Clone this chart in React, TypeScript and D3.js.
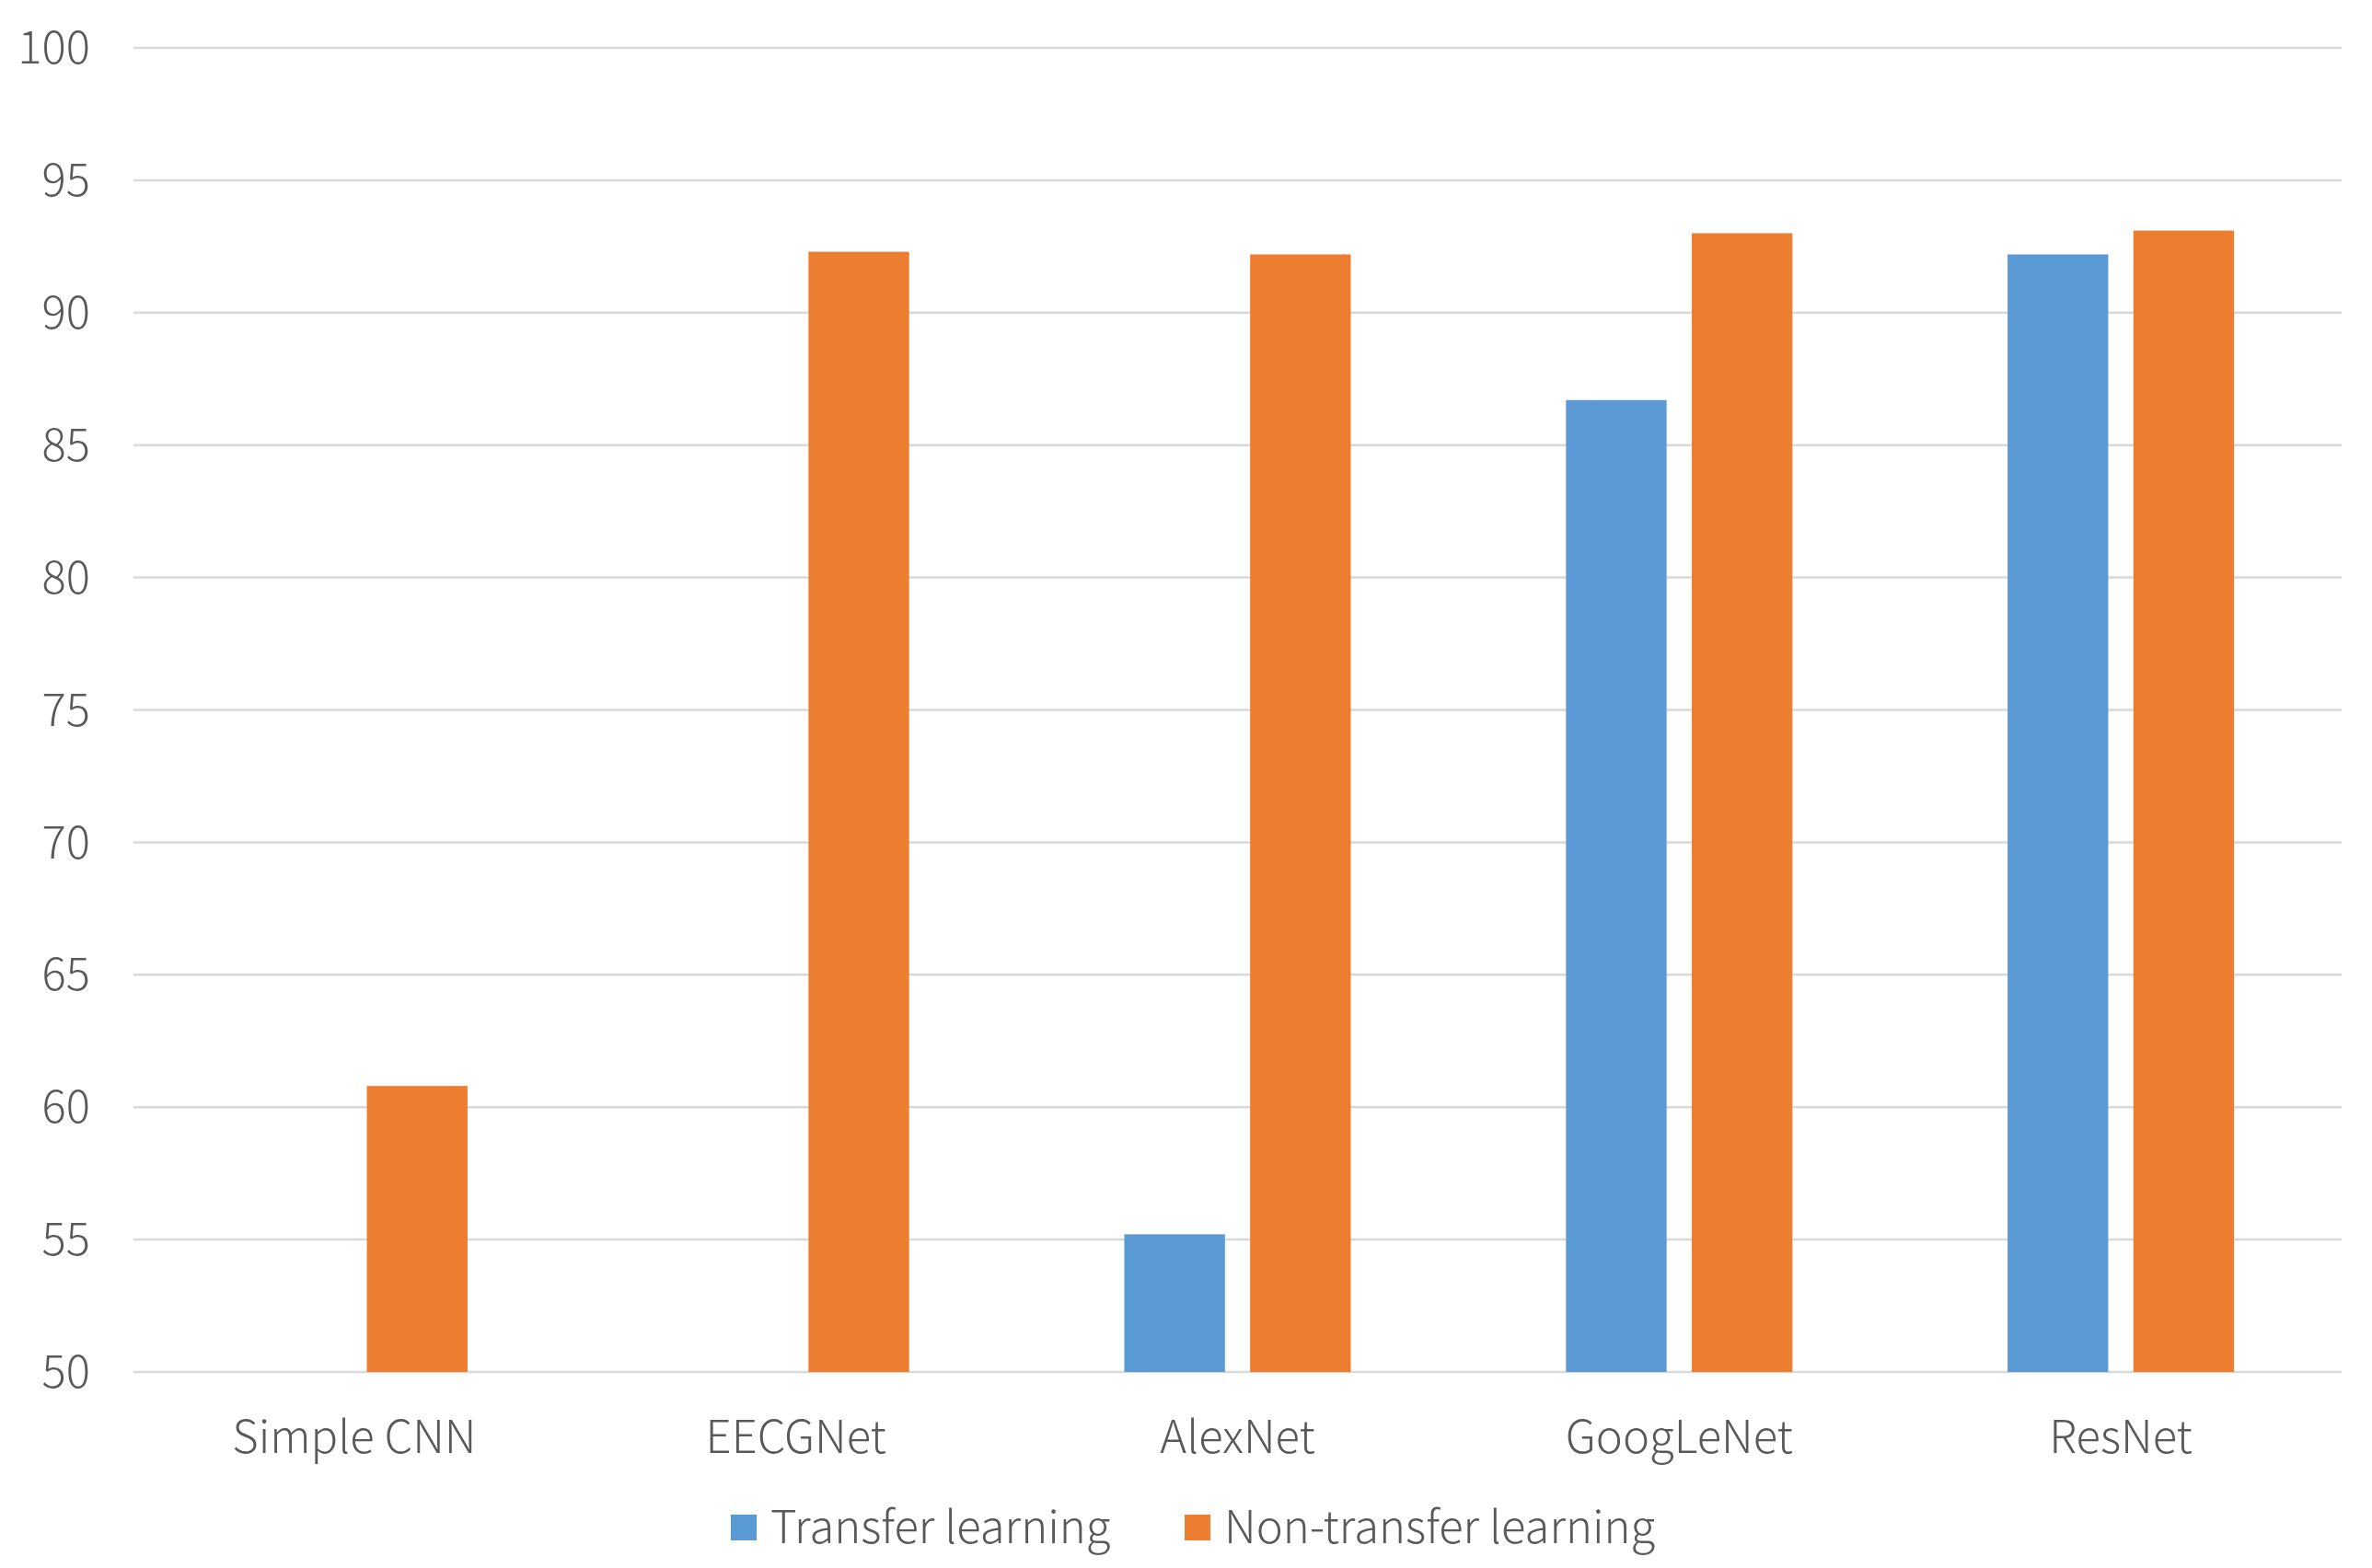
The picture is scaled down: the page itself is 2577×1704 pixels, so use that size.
import React, { useEffect, useRef } from 'react';
import * as d3 from 'd3';

// chart data
const categories = ['Simple CNN', 'EECGNet', 'AlexNet', 'GoogLeNet', 'ResNet'];
const seriesNames = ['Transfer learning', 'Non-transfer learning'];
const transferValues: (number | null)[] = [null, null, 55.2, 86.7, 92.2];
const nonTransferValues: number[] = [60.8, 92.3, 92.2, 93.0, 93.1];
const yTicks = [50, 55, 60, 65, 70, 75, 80, 85, 90, 95, 100];
const colors = ['#5B9BD5', '#ED7D31'];

const W = 2577;
const H = 1704;
const FONT = '"Noto Sans CJK KR", "Noto Sans", sans-serif';
const FONT_SIZE = '49px';

const App = () => {
  const ref = useRef<SVGSVGElement>(null);

  useEffect(() => {
    document.body.style.margin = '0';
    const svg = d3.select(ref.current);
    svg.selectAll('*').remove();

    const margin = { left: 145, right: 33, top: 52, bottom: 213 };
    const plotW = W - margin.left - margin.right;
    const plotH = H - margin.top - margin.bottom;

    const x0 = d3.scaleBand().domain(categories).range([0, plotW]).padding(0);
    const groupW = 246;
    const x1 = d3.scaleBand().domain(seriesNames).range([-groupW / 2, groupW / 2]).paddingInner(0.2).paddingOuter(0);
    const y = d3.scaleLinear().domain([50, 100]).range([plotH, 0]);

    const g = svg.append('g').attr('transform', `translate(${margin.left},${margin.top})`);

    // gridlines
    g.append('g')
      .selectAll('line')
      .data(yTicks)
      .enter()
      .append('line')
      .attr('x1', 0)
      .attr('x2', plotW)
      .attr('y1', d => y(d))
      .attr('y2', d => y(d))
      .attr('stroke', '#D9D9D9')
      .attr('stroke-width', 2.5);

    // y tick labels
    g.append('g')
      .selectAll('text')
      .data(yTicks)
      .enter()
      .append('text')
      .attr('x', -47)
      .attr('y', d => y(d))
      .attr('dy', '0.35em')
      .attr('text-anchor', 'end')
      .attr('fill', '#595959')
      .style('font-family', FONT)
      .style('font-weight', 300)
      .style('font-size', FONT_SIZE)
      .text(d => d);

    // bars
    const allSeries = [transferValues, nonTransferValues];
    allSeries.forEach((vals, si) => {
      g.append('g')
        .selectAll('rect')
        .data(vals.map((v, i) => ({ v, c: categories[i] })).filter(d => d.v != null))
        .enter()
        .append('rect')
        .attr('x', d => (x0(d.c) as number) + x0.bandwidth() / 2 + (x1(seriesNames[si]) as number))
        .attr('width', x1.bandwidth())
        .attr('y', d => y(d.v as number))
        .attr('height', d => plotH - y(d.v as number))
        .attr('fill', colors[si]);
    });

    // category labels
    g.append('g')
      .selectAll('text')
      .data(categories)
      .enter()
      .append('text')
      .attr('x', d => (x0(d) as number) + x0.bandwidth() / 2)
      .attr('y', plotH + 88)
      .attr('text-anchor', 'middle')
      .attr('fill', '#595959')
      .style('font-family', FONT)
      .style('font-weight', 300)
      .style('font-size', FONT_SIZE)
      .text(d => d);

    // legend
    const legendY = 1660;
    const legendItems = [
      { name: seriesNames[0], x: 794, color: colors[0] },
      { name: seriesNames[1], x: 1287, color: colors[1] },
    ];
    const lg = svg.append('g');
    legendItems.forEach(it => {
      lg.append('rect')
        .attr('x', it.x)
        .attr('y', legendY - 14)
        .attr('width', 28)
        .attr('height', 28)
        .attr('fill', it.color);
      lg.append('text')
        .attr('x', it.x + 43)
        .attr('y', legendY)
        .attr('dy', '0.35em')
        .attr('fill', '#595959')
        .style('font-family', FONT)
        .style('font-weight', 300)
        .style('font-size', FONT_SIZE)
        .text(it.name);
    });
  }, []);

  return <svg ref={ref} width={W} height={H} style={{ display: 'block', background: '#fff' }}></svg>;
};

export default App;
